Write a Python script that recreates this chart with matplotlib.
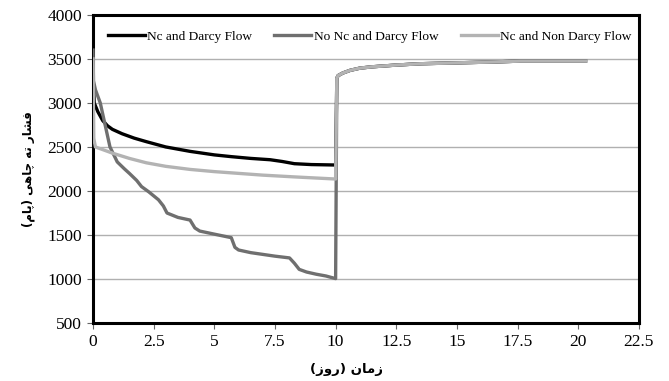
import matplotlib
matplotlib.use("Agg")
import matplotlib.pyplot as plt
import numpy as np

# ---------------- data ----------------
series_names = ["Nc and Darcy Flow", "No Nc and Darcy Flow", "Nc and Non Darcy Flow"]

black_t = [0, 0.05, 0.2, 0.4, 0.6, 0.8, 1.2, 1.7, 2.2, 3.0, 4.0, 5.0, 5.7, 6.5, 7.3, 7.8, 8.3, 9.0, 10.0]
black_p = [3300, 3000, 2900, 2800, 2740, 2700, 2650, 2600, 2560, 2500, 2450, 2410, 2390, 2370, 2355, 2335, 2310, 2300, 2295]

dark_t = [0, 0.02, 0.1, 0.3, 0.5, 0.7, 1.0, 1.3, 1.5, 1.8, 2.0, 2.3, 2.7, 2.9, 3.05, 3.5, 4.0, 4.2,
          4.4, 5.0, 5.7, 5.85, 6.0, 6.5, 7.0, 7.5, 8.1, 8.3, 8.5, 8.8, 9.2, 9.6, 10.0]
dark_p = [3600, 3250, 3150, 3000, 2750, 2500, 2330, 2250, 2200, 2120, 2050, 1990, 1900, 1830, 1750, 1700, 1670, 1580,
          1545, 1510, 1470, 1360, 1330, 1300, 1280, 1260, 1240, 1180, 1110, 1080, 1055, 1035, 1005]

light_t = [0, 0.03, 0.1, 0.5, 0.8, 1.5, 2.2, 3.0, 4.0, 5.0, 6.0, 7.0, 8.3, 9.0, 10.0]
light_p = [3500, 2600, 2500, 2460, 2430, 2370, 2320, 2280, 2245, 2220, 2200, 2180, 2160, 2150, 2136]

# build-up period (shared by all series)
post_t = [10.05, 10.1, 10.3, 10.6, 11.0, 11.5, 12.5, 13.5, 15.0, 16.5, 17.6, 19.0, 20.3]
post_p = [3280, 3310, 3340, 3370, 3395, 3410, 3430, 3445, 3455, 3465, 3475, 3475, 3475]

xticks = [0, 2.5, 5, 7.5, 10, 12.5, 15, 17.5, 20, 22.5]
xtick_labels = ["0", "2.5", "5", "7.5", "10", "12.5", "15", "17.5", "20", "22.5"]
yticks = [500, 1000, 1500, 2000, 2500, 3000, 3500, 4000]

xlabel_fa = "زمان (روز)"
ylabel_fa = "فشار ته چاهی (پام)"

# ------------- simple Persian shaping (no external libs) -------------
FORMS = {  # isolated, final, initial, medial
    "ا": ("\uFE8D", "\uFE8E", None, None),
    "ر": ("\uFEAD", "\uFEAE", None, None),
    "ز": ("\uFEAF", "\uFEB0", None, None),
    "و": ("\uFEED", "\uFEEE", None, None),
    "ت": ("\uFE95", "\uFE96", "\uFE97", "\uFE98"),
    "ش": ("\uFEB5", "\uFEB6", "\uFEB7", "\uFEB8"),
    "ف": ("\uFED1", "\uFED2", "\uFED3", "\uFED4"),
    "م": ("\uFEE1", "\uFEE2", "\uFEE3", "\uFEE4"),
    "ن": ("\uFEE5", "\uFEE6", "\uFEE7", "\uFEE8"),
    "ه": ("\uFEE9", "\uFEEA", "\uFEEB", "\uFEEC"),
    "چ": ("\uFB7A", "\uFB7B", "\uFB7C", "\uFB7D"),
    "پ": ("\uFB56", "\uFB57", "\uFB58", "\uFB59"),
    "ی": ("\uFBFC", "\uFBFD", "\uFBFE", "\uFBFF"),
}


def shape(s):
    out = []
    n = len(s)
    for i, ch in enumerate(s):
        if ch not in FORMS:
            out.append(ch)
            continue
        f = FORMS[ch]
        prev = s[i - 1] if i > 0 else None
        nxt = s[i + 1] if i < n - 1 else None
        join_prev = prev in FORMS and FORMS[prev][2] is not None
        join_next = nxt in FORMS and f[2] is not None
        if join_prev and join_next:
            out.append(f[3])
        elif join_prev:
            out.append(f[1])
        elif join_next:
            out.append(f[2])
        else:
            out.append(f[0])
    vis = "".join(out)[::-1]
    vis = vis.translate(str.maketrans("()", ")("))
    return vis


# ---------------- plot ----------------
plt.rcParams["font.family"] = ["Liberation Serif", "DejaVu Sans"]

fig = plt.figure(figsize=(6.69, 3.81), dpi=100)
ax = fig.add_axes([0.139, 0.152, 0.816, 0.809])

colors = ["#000000", "#6f6f6f", "#b3b3b3"]
data = [(black_t, black_p), (dark_t, dark_p), (light_t, light_p)]
zorders = [3, 4, 5]
for (t, p), c, name, z in zip(data, colors, series_names, zorders):
    xt = list(t) + post_t
    yp = list(p) + post_p
    ax.plot(xt, yp, color=c, lw=2.4, label=name, zorder=z, solid_joinstyle="round")

ax.set_xlim(0, 22.5)
ax.set_ylim(500, 4000)
ax.set_xticks(xticks)
ax.set_xticklabels(xtick_labels)
ax.set_yticks(yticks)
ax.yaxis.grid(True, color="#b0b0b0", lw=1.0, zorder=0)
ax.set_axisbelow(True)
for sp in ax.spines.values():
    sp.set_linewidth(2.2)
    sp.set_color("black")
ax.tick_params(axis="both", labelsize=12.5, length=4, width=0.8, color="#666666", pad=4)

ax.set_xlabel(shape(xlabel_fa), family=["DejaVu Sans"], fontsize=9.5, fontweight="bold")
ax.xaxis.set_label_coords(0.465, -0.128)
ax.set_ylabel(shape(ylabel_fa), family=["DejaVu Sans"], fontsize=8.5, fontweight="bold")
ax.yaxis.set_label_coords(-0.106, 0.5)

leg = ax.legend(loc="center", ncol=3, frameon=True, fontsize=9.6,
                bbox_to_anchor=(0.507, 0.929), handlelength=2.78, handletextpad=0.2,
                columnspacing=1.65, borderpad=0.3)
leg.get_frame().set_facecolor("white")
leg.get_frame().set_edgecolor("white")
leg.get_frame().set_alpha(1.0)
for h in leg.get_lines():
    h.set_linewidth(2.4)

fig.savefig("out.png", dpi=100)
